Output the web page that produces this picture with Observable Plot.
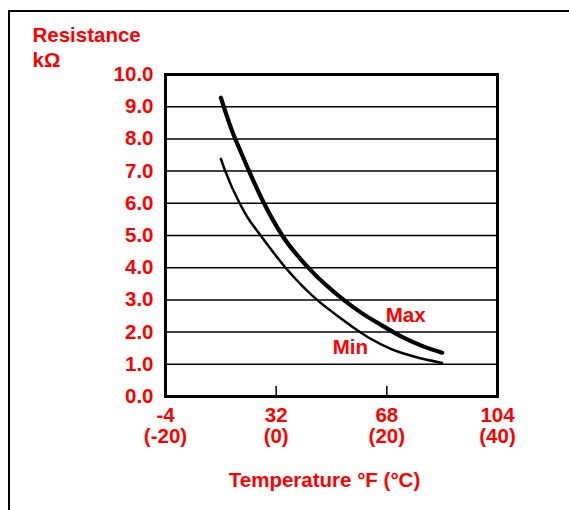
<!DOCTYPE html>
<html><head><meta charset="utf-8">
<script src="https://cdn.jsdelivr.net/npm/d3@7"></script>
<script src="https://cdn.jsdelivr.net/npm/@observablehq/plot@0.6"></script>
<style>
body{margin:0;background:#fff;}
#wrap{position:relative;width:569px;height:510px;overflow:hidden;background:#fff;}
#border{position:absolute;left:8px;top:10px;width:620px;height:620px;border:2.5px solid #000;box-sizing:border-box;}
#chart{position:absolute;left:0;top:0;}
</style></head><body>
<div id="wrap"><div id="border"></div><div id="chart"></div></div>
<script>
// Max curve (temperature °C, resistance kΩ)
const maxTemp = [-10, -8, -6.4, -4.9, -2.2, 1.1, 5.8, 12.2, 15.2, 19.5, 23.1, 26.7, 30];
const maxRes  = [9.28, 8.26, 7.6, 7.0, 6.0, 5.0, 4.0, 3.0, 2.62, 2.17, 1.82, 1.55, 1.36];
// Min curve
const minTemp = [-10, -9.2, -6.6, -5.2, -2.8, 1.7, 7.4, 11.6, 15.0, 17.0, 20.7, 24.9, 30];
const minRes  = [7.38, 7.0, 6.0, 5.57, 5.0, 4.0, 3.0, 2.44, 2.02, 1.8, 1.48, 1.24, 1.04];
// axes
const yTicks = [0, 1, 2, 3, 4, 5, 6, 7, 8, 9, 10];
const yGrid = [1, 2, 3, 4, 5, 6, 7, 8, 9];
const xTicksC = [-20, 0, 20, 40];
const xTicksF = ["-4", "32", "68", "104"];
const xInner = [0, 20];
// curve labels
const labelText = ["Max", "Min"];
const labelX = [23.4, 13.4];
const labelY = [2.52, 1.52];

const maxData = maxTemp.map((t, i) => ({t, r: maxRes[i]}));
const minData = minTemp.map((t, i) => ({t, r: minRes[i]}));
const labels = labelText.map((s, i) => ({s, x: labelX[i], y: labelY[i]}));

const red = "#ff0000";
const font = {fill: red, fontSize: 20.5, fontWeight: "bold", lineAnchor: "middle"};

const chart = Plot.plot({
  width: 569,
  height: 510,
  marginLeft: 165,
  marginRight: 72,
  marginTop: 74,
  marginBottom: 114,
  style: {fontFamily: "'Liberation Sans', Arial, Helvetica, sans-serif", fontWeight: "bold", background: "transparent"},
  x: {domain: [-20, 40], axis: null},
  y: {domain: [0, 10], axis: null},
  marks: [
    Plot.ruleY(yGrid, {stroke: "black", strokeWidth: 1.5}),
    Plot.axisX(xInner, {anchor: "bottom", tickSize: -10, strokeWidth: 1.5, tickFormat: () => ""}),
    Plot.line(minData, {x: "t", y: "r", curve: "monotone-x", stroke: "black", strokeWidth: 2.5, strokeLinecap: "round"}),
    Plot.line(maxData, {x: "t", y: "r", curve: "monotone-x", stroke: "black", strokeWidth: 4.2, strokeLinecap: "round"}),
    Plot.frame({stroke: "black", strokeWidth: 3}),
    Plot.axisY(yTicks, {anchor: "left", tickSize: 0, tickPadding: 12, tickFormat: d => d.toFixed(1), ...font}),
    Plot.text(xTicksC, {x: d => d, text: (d, i) => xTicksF[i], frameAnchor: "bottom", dy: 18.5, ...font}),
    Plot.text(xTicksC, {x: d => d, text: d => `(${d})`, frameAnchor: "bottom", dy: 39.5, ...font}),
    Plot.text(labels, {x: "x", y: "y", text: "s", ...font}),
    Plot.text(["Resistance"], {frameAnchor: "top-left", textAnchor: "start", dx: -133, dy: -38.8, ...font}),
    Plot.text(["kΩ"], {frameAnchor: "top-left", textAnchor: "start", dx: -133, dy: -13.8, ...font}),
    Plot.text(["Temperature °F (°C)"], {frameAnchor: "bottom", dx: -7, dy: 84.3, ...font})
  ]
});
document.getElementById("chart").appendChild(chart);
</script>
</body></html>
